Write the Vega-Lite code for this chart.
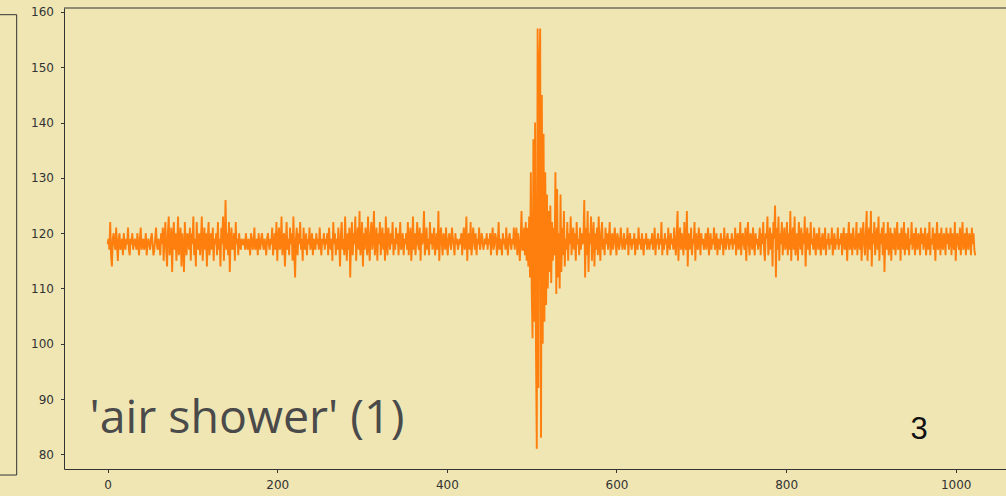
{
  "$schema": "https://vega.github.io/schema/vega-lite/v6.json",
  "width": 942,
  "height": 461,
  "autosize": {"type": "none"},
  "padding": {"left": 64, "top": 8, "right": 0, "bottom": 27},
  "background": "#efe6b4",
  "config": {
    "view": {"stroke": null},
    "axis": {
      "grid": false,
      "title": null,
      "domainColor": "#333333",
      "domainWidth": 1,
      "tickColor": "#333333",
      "tickSize": 3.5,
      "tickWidth": 1,
      "labelFont": "DejaVu Sans",
      "labelFontSize": 12,
      "labelColor": "#333333"
    }
  },
  "datasets": {
    "trace": [
      {
        "x": [0,1,2,3,4,5,6,7,8,9,10,11,12,13,14,15,16,17,18,19,20,21,22,23,24,25,26,27,28,29,30,31,32,33,34,35,36,37,38,39,40,41,42,43,44,45,46,47,48,49,50,51,52,53,54,55,56,57,58,59,60,61,62,63,64,65,66,67,68,69,70,71,72,73,74,75,76,77,78,79,80,81,82,83,84,85,86,87,88,89,90,91,92,93,94,95,96,97,98,99,100,101,102,103,104,105,106,107,108,109,110,111,112,113,114,115,116,117,118,119,120,121,122,123,124,125,126,127,128,129,130,131,132,133,134,135,136,137,138,139,140,141,142,143,144,145,146,147,148,149,150,151,152,153,154,155,156,157,158,159,160,161,162,163,164,165,166,167,168,169,170,171,172,173,174,175,176,177,178,179,180,181,182,183,184,185,186,187,188,189,190,191,192,193,194,195,196,197,198,199,200,201,202,203,204,205,206,207,208,209,210,211,212,213,214,215,216,217,218,219,220,221,222,223,224,225,226,227,228,229,230,231,232,233,234,235,236,237,238,239,240,241,242,243,244,245,246,247,248,249,250,251,252,253,254,255,256,257,258,259,260,261,262,263,264,265,266,267,268,269,270,271,272,273,274,275,276,277,278,279,280,281,282,283,284,285,286,287,288,289,290,291,292,293,294,295,296,297,298,299,300,301,302,303,304,305,306,307,308,309,310,311,312,313,314,315,316,317,318,319,320,321,322,323,324,325,326,327,328,329,330,331,332,333,334,335,336,337,338,339,340,341,342,343,344,345,346,347,348,349,350,351,352,353,354,355,356,357,358,359,360,361,362,363,364,365,366,367,368,369,370,371,372,373,374,375,376,377,378,379,380,381,382,383,384,385,386,387,388,389,390,391,392,393,394,395,396,397,398,399,400,401,402,403,404,405,406,407,408,409,410,411,412,413,414,415,416,417,418,419,420,421,422,423,424,425,426,427,428,429,430,431,432,433,434,435,436,437,438,439,440,441,442,443,444,445,446,447,448,449,450,451,452,453,454,455,456,457,458,459,460,461,462,463,464,465,466,467,468,469,470,471,472,473,474,475,476,477,478,479,480,481,482,483,484,485,486,487,488,489,490,491,492,493,494,495,496,497,498,499,500,501,502,503,504,505,506,507,508,509,510,511,512,513,514,515,516,517,518,519,520,521,522,523,524,525,526,527,528,529,530,531,532,533,534,535,536,537,538,539,540,541,542,543,544,545,546,547,548,549,550,551,552,553,554,555,556,557,558,559,560,561,562,563,564,565,566,567,568,569,570,571,572,573,574,575,576,577,578,579,580,581,582,583,584,585,586,587,588,589,590,591,592,593,594,595,596,597,598,599,600,601,602,603,604,605,606,607,608,609,610,611,612,613,614,615,616,617,618,619,620,621,622,623,624,625,626,627,628,629,630,631,632,633,634,635,636,637,638,639,640,641,642,643,644,645,646,647,648,649,650,651,652,653,654,655,656,657,658,659,660,661,662,663,664,665,666,667,668,669,670,671,672,673,674,675,676,677,678,679,680,681,682,683,684,685,686,687,688,689,690,691,692,693,694,695,696,697,698,699,700,701,702,703,704,705,706,707,708,709,710,711,712,713,714,715,716,717,718,719,720,721,722,723,724,725,726,727,728,729,730,731,732,733,734,735,736,737,738,739,740,741,742,743,744,745,746,747,748,749,750,751,752,753,754,755,756,757,758,759,760,761,762,763,764,765,766,767,768,769,770,771,772,773,774,775,776,777,778,779,780,781,782,783,784,785,786,787,788,789,790,791,792,793,794,795,796,797,798,799,800,801,802,803,804,805,806,807,808,809,810,811,812,813,814,815,816,817,818,819,820,821,822,823,824,825,826,827,828,829,830,831,832,833,834,835,836,837,838,839,840,841,842,843,844,845,846,847,848,849,850,851,852,853,854,855,856,857,858,859,860,861,862,863,864,865,866,867,868,869,870,871,872,873,874,875,876,877,878,879,880,881,882,883,884,885,886,887,888,889,890,891,892,893,894,895,896,897,898,899,900,901,902,903,904,905,906,907,908,909,910,911,912,913,914,915,916,917,918,919,920,921,922,923,924,925,926,927,928,929,930,931,932,933,934,935,936,937,938,939,940,941,942,943,944,945,946,947,948,949,950,951,952,953,954,955,956,957,958,959,960,961,962,963,964,965,966,967,968,969,970,971,972,973,974,975,976,977,978,979,980,981,982,983,984,985,986,987,988,989,990,991,992,993,994,995,996,997,998,999,1000,1001,1002,1003,1004,1005,1006,1007,1008,1009,1010,1011,1012,1013,1014,1015,1016,1017,1018,1019,1020,1021,1022,1023],
        "y": [118,119,117,122,116,114,119,120,118,117,121,118,115,119,120,117,118,119,116,120,118,117,119,118,121,117,116,119,118,120,117,118,
              119,118,117,120,118,116,119,121,117,118,119,117,118,120,116,118,119,118,117,119,120,118,116,117,119,121,118,117,119,118,116,120,
              118,121,115,119,122,117,114,120,123,116,118,121,113,119,122,117,120,115,118,123,116,119,121,114,120,117,113,122,118,116,120,119,
              117,121,115,120,118,123,116,119,114,122,118,117,120,116,119,123,115,118,121,117,120,114,119,122,116,118,120,117,121,115,119,118,
              120,116,122,117,119,114,121,118,123,115,119,126,117,120,116,122,113,119,121,117,118,120,115,122,118,119,116,120,118,117,119,118,
              118,119,117,120,118,117,119,118,116,120,119,117,118,121,117,118,119,116,120,118,117,119,120,118,117,119,118,116,119,120,118,117,
              119,118,121,116,118,120,117,122,115,119,121,117,118,123,116,119,120,114,118,122,117,119,116,121,118,120,115,123,117,112,119,121,
              116,120,118,122,117,119,115,121,118,117,120,116,119,118,121,117,118,120,116,119,118,117,120,118,119,117,121,118,116,119,118,120,
              117,119,118,120,116,121,118,117,119,115,122,118,120,116,119,117,121,118,114,120,122,117,119,116,123,118,115,120,117,121,112,119,
              122,116,120,118,123,115,119,121,117,124,116,118,122,114,120,117,121,119,116,123,118,115,120,122,117,119,124,116,118,121,115,120,
              118,122,116,119,121,117,120,115,123,118,116,121,119,117,120,118,122,116,119,117,121,118,120,116,119,122,117,118,120,116,119,118,
              120,117,122,116,119,121,115,118,123,117,120,116,119,122,118,117,121,115,120,118,119,124,116,118,121,117,119,116,122,118,120,117,
              119,121,116,118,120,117,124,115,119,121,118,116,120,119,117,121,118,116,119,120,118,117,121,119,118,116,120,118,119,117,118,119,
              118,120,116,119,121,117,118,123,115,119,120,117,122,116,118,121,119,117,120,116,119,118,121,117,118,120,119,117,118,119,118,120,
              117,119,118,120,116,119,121,117,118,120,119,116,118,122,117,119,118,116,120,118,119,117,121,118,116,119,120,118,117,119,118,121,
              117,119,121,116,120,118,115,119,124,117,117,121,116,122,115,121,114,123,112,131,110,101,137,104,140,100,81,157,92,150,157,83,
              145,100,138,104,131,107,127,110,124,113,125,111,122,115,121,116,131,109,128,112,120,110,127,113,121,116,124,114,119,117,122,115,
              120,118,123,116,119,121,117,120,115,122,118,119,116,121,117,120,118,119,126,112,121,116,124,113,120,118,123,115,119,122,114,120,
              117,121,116,123,118,115,120,122,117,119,116,121,118,120,117,119,122,116,118,120,117,119,121,118,116,120,119,117,118,121,119,117,
              118,120,117,119,118,121,116,119,120,118,117,119,118,120,116,119,118,117,121,118,119,117,120,118,116,119,118,120,117,119,118,117,
              119,118,120,117,118,121,116,119,118,120,117,119,118,122,116,119,117,120,118,119,116,121,118,117,120,118,119,117,121,118,116,120,
              124,115,119,121,117,120,118,116,122,118,117,124,114,120,119,117,121,116,119,118,122,115,120,118,117,121,119,116,120,118,119,117,
              118,120,117,119,121,116,118,120,117,119,118,121,117,118,120,116,119,118,117,120,118,119,116,121,118,117,119,120,118,117,119,118,
              120,117,119,118,121,116,119,120,117,118,122,116,119,120,118,117,121,115,119,122,118,116,120,119,117,121,118,116,120,118,119,117,
              119,121,116,120,118,122,117,115,120,119,123,116,118,121,117,120,114,122,119,125,112,121,117,123,115,120,118,122,116,119,121,117,
              118,122,116,120,117,124,115,119,121,117,123,116,118,120,115,122,119,117,121,116,120,118,123,114,119,121,117,120,116,122,118,119,
              117,121,118,116,120,119,117,121,118,116,119,120,117,118,121,116,119,118,120,117,119,118,121,116,118,120,117,119,118,121,117,119,
              118,120,116,119,121,117,118,120,115,119,122,117,118,120,116,121,119,117,118,122,116,119,120,117,121,115,119,122,118,116,120,124,
              115,119,121,117,124,114,120,118,122,116,119,121,117,123,115,120,118,121,116,122,113,119,120,117,122,116,118,121,115,120,119,117,
              121,116,119,122,117,118,120,115,121,119,117,122,116,120,118,117,121,116,119,118,122,117,119,120,116,121,118,117,120,119,116,121,
              118,120,117,119,121,116,118,120,117,122,116,119,118,121,117,120,115,119,122,117,118,120,116,121,118,117,120,119,116,121,118,120,
              117,119,121,116,120,118,117,122,115,119,120,118,117,121,116,119,122,117,118,120,116,121,118,117,120,119,116,121,118,120,117,116]
      }
    ]
  },
  "layer": [
    {
      "data": {"name": "trace"},
      "transform": [{"flatten": ["x", "y"]}],
      "mark": {"type": "line", "color": "#ff7f0e", "strokeWidth": 1.9},
      "encoding": {
        "x": {
          "field": "x",
          "type": "quantitative",
          "scale": {"domain": [-51.5, 1059.3], "nice": false, "zero": false},
          "axis": {"values": [0, 200, 400, 600, 800, 1000], "format": "d", "labelPadding": 6.5, "labelFlush": false}
        },
        "y": {
          "field": "y",
          "type": "quantitative",
          "scale": {"domain": [77.36, 160.72], "nice": false, "zero": false},
          "axis": {"values": [80, 90, 100, 110, 120, 130, 140, 150, 160], "format": "d", "labelPadding": 7, "labelFlush": false}
        }
      }
    },
    {
      "data": {"values": [{}]},
      "mark": {"type": "rule", "color": "#333333", "strokeWidth": 1},
      "encoding": {
        "y": {"datum": 160.72, "type": "quantitative", "scale": {"domain": [77.36, 160.72], "nice": false, "zero": false}}
      }
    },
    {
      "data": {"values": [{}]},
      "mark": {"type": "rule", "color": "#333333", "strokeWidth": 1},
      "encoding": {
        "x": {"datum": -107.3, "type": "quantitative", "scale": {"domain": [-51.5, 1059.3], "nice": false, "zero": false}},
        "y": {"datum": 159.51, "type": "quantitative", "scale": {"domain": [77.36, 160.72], "nice": false, "zero": false}},
        "y2": {"datum": 76.27}
      }
    },
    {
      "data": {"values": [{}]},
      "mark": {"type": "rule", "color": "#333333", "strokeWidth": 1},
      "encoding": {
        "x": {"datum": -135, "type": "quantitative", "scale": {"domain": [-51.5, 1059.3], "nice": false, "zero": false}},
        "x2": {"datum": -107.3},
        "y": {"datum": 159.51, "type": "quantitative", "scale": {"domain": [77.36, 160.72], "nice": false, "zero": false}}
      }
    },
    {
      "data": {"values": [{}]},
      "mark": {"type": "rule", "color": "#333333", "strokeWidth": 1},
      "encoding": {
        "x": {"datum": -135, "type": "quantitative", "scale": {"domain": [-51.5, 1059.3], "nice": false, "zero": false}},
        "x2": {"datum": -107.3},
        "y": {"datum": 76.27, "type": "quantitative", "scale": {"domain": [77.36, 160.72], "nice": false, "zero": false}}
      }
    },
    {
      "data": {"values": [{"label": "'air shower' (1)"}]},
      "mark": {"type": "text", "font": "Open Sans", "fontSize": 46.5, "color": "#4a4a4a", "align": "left", "baseline": "alphabetic"},
      "encoding": {
        "x": {"datum": -21.5, "type": "quantitative", "scale": {"domain": [-51.5, 1059.3], "nice": false, "zero": false}},
        "y": {"datum": 83.87, "type": "quantitative", "scale": {"domain": [77.36, 160.72], "nice": false, "zero": false}},
        "text": {"field": "label"}
      }
    },
    {
      "data": {"values": [{"label": "3"}]},
      "mark": {"type": "text", "font": "Liberation Sans", "fontSize": 31, "color": "#111111", "align": "left", "baseline": "alphabetic"},
      "encoding": {
        "x": {"datum": 946.6, "type": "quantitative", "scale": {"domain": [-51.5, 1059.3], "nice": false, "zero": false}},
        "y": {"datum": 82.78, "type": "quantitative", "scale": {"domain": [77.36, 160.72], "nice": false, "zero": false}},
        "text": {"field": "label"}
      }
    }
  ]
}
